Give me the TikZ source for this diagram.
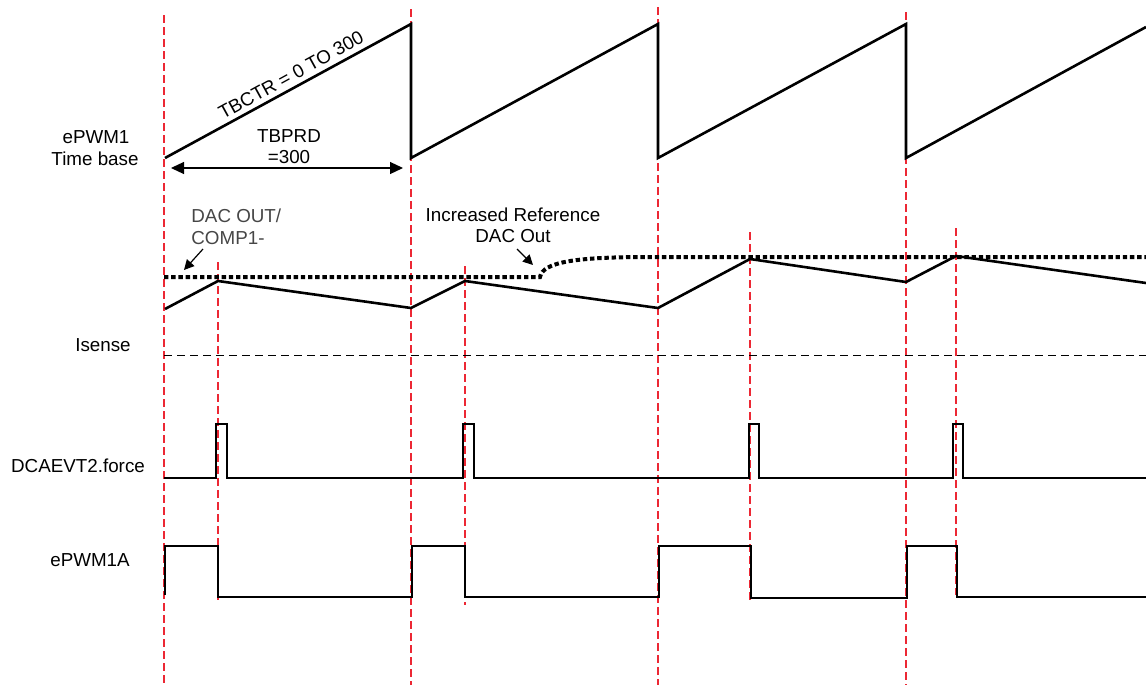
\documentclass[tikz,border=0pt]{standalone}
\usepackage{fontspec}
\setmainfont{Liberation Sans}
\usetikzlibrary{arrows.meta}
\definecolor{guide}{RGB}{236,40,52}
\definecolor{graytxt}{RGB}{70,70,70}
\tikzset{
  guideline/.style={guide, line width=0.55pt, dash pattern=on 4pt off 2pt},
  wave/.style={black, line width=1.3pt, line join=miter},
  refline/.style={black, line width=2pt, dash pattern=on 2.2pt off 1.4pt},
  threshold/.style={black, line width=0.5pt, dash pattern=on 4pt off 2.5pt},
  lbl/.style={font=\fontsize{9.4}{11.2}\selectfont, inner sep=0pt, align=center},
  ann/.style={-{Triangle[length=5pt,width=5pt]}, line width=0.6pt},
  dim/.style={{Triangle[length=6.5pt,width=6pt]}-{Triangle[length=6.5pt,width=6pt]}, line width=0.6pt}
}
\begin{document}
\begin{tikzpicture}[x=0.5pt,y=-0.5pt]
\useasboundingbox (0,0) rectangle (1146,685);
% red guide lines (period starts)
\draw[guideline] (164,15) -- (164,685);
\draw[guideline] (411,9) -- (411,685);
\draw[guideline] (658,7) -- (658,685);
\draw[guideline] (906,12) -- (906,685);
% red guide lines (compare events)
\draw[guideline] (218,262) -- (218,600);
\draw[guideline] (465,266) -- (465,605);
\draw[guideline] (750,232) -- (750,600);
\draw[guideline] (956,228) -- (956,595);

% time base sawtooth
\draw[wave] (165,158) -- (411,24) -- (411,158) -- (658,24) -- (658,158) -- (906,24) -- (906,158) -- (1146,27);
% TBPRD dimension
\coordinate (d1) at (171,168);
\coordinate (d2) at (403,168);
\draw[dim] (d1) -- (d2);
\node[lbl] (tbprd) at (289,136) {TBPRD};
\node[lbl] (tbval) at (289,157) {=300};
\node[lbl, rotate=28.8] (tbctr) at (291,75) {TBCTR = 0 TO 300};

% DAC reference (dotted)
\draw[refline] (164,277) -- (540,277) .. controls (543,262) and (575,257) .. (650,257) -- (1146,257);
% Isense waveform
\draw[wave] (165,309) -- (218,281) -- (411,308) -- (465,281) -- (658,308) -- (750,259) -- (906,282) -- (956,256) -- (1146,283);
% Isense threshold dashed
\draw[threshold] (164,355) -- (1146,355);

% DCAEVT2.force
\draw[wave] (164,478) -- (216,478) -- (216,424) -- (227,424) -- (227,478)
  -- (463,478) -- (463,424) -- (474,424) -- (474,478)
  -- (749,478) -- (749,424) -- (759,424) -- (759,478)
  -- (953,478) -- (953,424) -- (963,424) -- (963,478) -- (1146,478);

% ePWM1A
\draw[wave] (165,595) -- (165,546) -- (218,546) -- (218,597) -- (412,597) -- (412,546) -- (465,546) -- (465,597)
  -- (659,597) -- (659,546) -- (751,546) -- (751,598) -- (907,598) -- (907,546) -- (957,546) -- (957,597) -- (1146,597);

% left labels
\node[lbl] (l1) at (96,137) {ePWM1};
\node[lbl] (l2) at (95,159) {Time base};
\node[lbl] (l3) at (103,345) {Isense};
\node[lbl] (l4) at (78,466) {DCAEVT2.force};
\node[lbl] (l5) at (90,560) {ePWM1A};

% annotations
\node[lbl, align=left, anchor=west, text=graytxt] (dac) at (191,227) {DAC OUT/\\COMP1-};
\coordinate (dacA) at (203,249);
\coordinate (dacB) at (184,270);
\draw[ann] (dacA) -- (dacB);
\node[lbl] (inc1) at (513,215) {Increased Reference};
\node[lbl] (inc2) at (513,236) {DAC Out};
\coordinate (incA) at (517,249);
\coordinate (incB) at (533,265);
\draw[ann] (incA) -- (incB);
\end{tikzpicture}
\end{document}
